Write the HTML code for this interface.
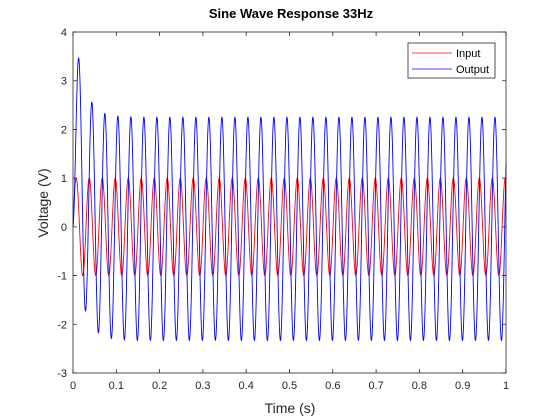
<!DOCTYPE html>
<html><head><meta charset="utf-8"><style>
html,body{margin:0;padding:0;background:#fff;}
svg{display:block;font-family:"Liberation Sans",Arial,sans-serif;}
</style></head><body>
<svg id="chart" width="560" height="420" viewBox="0 0 560 420">
  <rect x="0" y="0" width="560" height="420" fill="#fff"/>
  <rect x="73" y="32" width="433" height="341" fill="#fff"/>
  <g id="series"></g>
  <g id="axes"></g>
  <text x="291" y="18" text-anchor="middle" font-size="13" font-weight="bold" fill="#000">Sine Wave Response 33Hz</text>
  <text x="290" y="413" text-anchor="middle" font-size="14" fill="#262626">Time (s)</text>
  <text x="48" y="203" text-anchor="middle" font-size="14" fill="#262626" transform="rotate(-90 48 203)">Voltage (V)</text>
  <g>
    <rect x="408" y="43" width="87" height="35" fill="#fff" stroke="#262626" stroke-width="0.8"/>
    <line x1="412" y1="53" x2="452" y2="53" stroke="#ff0000" stroke-width="0.8"/>
    <text x="456" y="57" font-size="11" fill="#000">Input</text>
    <line x1="412" y1="69" x2="452" y2="69" stroke="#0000ff" stroke-width="0.8"/>
    <text x="456" y="73" font-size="11" fill="#000">Output</text>
  </g>
</svg>
<script>
var xTicks = [0,0.1,0.2,0.3,0.4,0.5,0.6,0.7,0.8,0.9,1];
var xTickLabels = ["0","0.1","0.2","0.3","0.4","0.5","0.6","0.7","0.8","0.9","1"];
var yTicks = [-3,-2,-1,0,1,2,3,4];
var yTickLabels = ["-3","-2","-1","0","1","2","3","4"];
var driveFrequency = [33.3];
var inputAmplitude = [1];
var outputAmplitude = [2.29];
var outputOffset = [-0.04];
var outputPhaseLag = [1.26];
var transientTau = [0.022];
var timeRange = [0, 1];

var L=73,T=32,W=433,H=341;
function sx(v){return L+(v-0)/(1-0)*W;}
function sy(v){return T+(4-v)/(4-(-3))*H;}
var NS="http://www.w3.org/2000/svg";
var axes=document.getElementById('axes'), series=document.getElementById('series');

function mk(tag,attrs,parent){var e=document.createElementNS(NS,tag);for(var k in attrs)e.setAttribute(k,attrs[k]);parent.appendChild(e);return e;}

var w=2*Math.PI*driveFrequency[0];
var N=3000, pin=[], pout=[];
var D=outputAmplitude[0]*Math.sin(outputPhaseLag[0])-outputOffset[0];
for(var i=0;i<=N;i++){
  var t=timeRange[0]+(timeRange[1]-timeRange[0])*i/N;
  var u=inputAmplitude[0]*Math.sin(w*t);
  var y=outputAmplitude[0]*Math.sin(w*t-outputPhaseLag[0])+outputOffset[0]+D*Math.exp(-t/transientTau[0]);
  pin.push(sx(t).toFixed(2)+","+sy(u).toFixed(2));
  pout.push(sx(t).toFixed(2)+","+sy(y).toFixed(2));
}
var inLine=mk('polyline',{points:pin.join(" "),fill:"none",stroke:"#ff0000","stroke-width":"0.9"},series);


var outLine=mk('polyline',{points:pout.join(" "),fill:"none",stroke:"#0000ff","stroke-width":"0.9"},series);



var fr=mk('rect',{x:L,y:T,width:W,height:H,fill:"none",stroke:"#262626","stroke-width":"0.8"},axes);



xTicks.forEach(function(v,i){
  var x=sx(v);
  var tk=mk('path',{d:"M"+x+","+(T+H)+"v-4M"+x+","+T+"v4",stroke:"#262626","stroke-width":"0.8"},axes);
  
  
  var lb=mk('text',{x:x,y:T+H+16,"text-anchor":"middle","font-size":"11",fill:"#262626"},axes);
  lb.textContent=xTickLabels[i];
  
  
});
yTicks.forEach(function(v,i){
  var y=sy(v);
  var tk=mk('path',{d:"M"+L+","+y+"h4M"+(L+W)+","+y+"h-4",stroke:"#262626","stroke-width":"0.8"},axes);
  
  
  var lb=mk('text',{x:L-6,y:y+4,"text-anchor":"end","font-size":"11",fill:"#262626"},axes);
  lb.textContent=yTickLabels[i];
  
  
});
</script>
</body></html>
